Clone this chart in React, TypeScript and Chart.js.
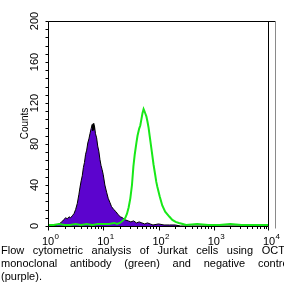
import React, { useEffect, useRef } from "react";
import { Chart, registerables } from "chart.js";

Chart.register(...registerables);

// Fluorescence channel values (log scale) and counts for the negative control (purple)
const purpleX = [1, 1.26, 1.41, 1.58, 1.78, 1.91, 2.09, 2.24, 2.4, 2.57, 2.75, 2.95, 3.16, 3.39, 3.63, 3.8, 3.98, 4.17, 4.37, 4.57, 4.79, 5.01, 5.25, 5.5, 5.75, 6.03, 6.31, 6.46, 6.61, 6.76, 6.92, 7.24, 7.59, 7.94, 8.32, 8.71, 9.12, 9.55, 10, 10.7, 11.5, 12.3, 13.2, 14.1, 15.5, 17, 18.6, 20.4, 22.4, 25.1, 28.2, 31.6, 35.5, 39.8, 44.7, 50.1, 56.2, 63.1, 70.8, 79.4, 100, 126, 158, 200, 251, 398, 10000];
const purpleCounts = [0, 0, 1, 2, 4, 6, 8, 7, 9, 8, 10, 12, 16, 22, 31, 38, 44, 49, 57, 62, 70, 74, 81, 85, 90, 95, 99, 93, 100, 94, 98, 90, 86, 78, 73, 65, 59, 55, 50, 40, 33, 27, 23, 19, 16, 14, 11, 9, 8, 6, 5, 4, 5, 3, 4, 3, 2, 3, 2, 1, 2, 1, 1, 1, 0, 0, 0];

// OCT4 antibody stained cells (green)
const greenX = [1, 1.26, 1.58, 2, 2.51, 3.16, 3.98, 5.01, 6.31, 7.94, 10, 12.6, 15.8, 17.8, 20, 22.4, 25.1, 26.9, 28.8, 30.9, 33.1, 35.1, 37.2, 39.8, 41.7, 44.7, 46.8, 49, 51.3, 53.7, 55.6, 57.5, 60.3, 63.1, 66.1, 69.2, 75.9, 81.3, 87.1, 91.2, 95.5, 105, 117, 132, 158, 178, 204, 234, 275, 316, 501, 794, 1259, 1995, 3162, 5012, 10000];
const greenCounts = [1, 1, 2, 1, 1, 2, 1, 2, 1, 2, 2, 2, 3, 2, 3, 5, 8, 12, 18, 27, 40, 58, 70, 81, 88, 95, 98, 104, 110, 114, 112, 110, 107, 102, 96, 88, 72, 60, 50, 43, 38, 29, 20, 14, 9, 6, 4, 3, 2, 1, 2, 1, 1, 2, 1, 1, 1];

const yTickLabels = [0, 40, 80, 120, 160, 200];
const xDecades = [0, 1, 2, 3, 4];
const yTitle = "Counts";
const captionLines = [
  "Flow cytometric analysis of Jurkat cells using OCT4",
  "monoclonal antibody (green) and negative control",
  "(purple).",
];

const FONT = '"Liberation Sans", Arial, Helvetica, sans-serif';

const axesPlugin = {
  id: "facsAxes",
  afterDraw(chart: any) {
    const { ctx, chartArea: a, scales } = chart;
    const xs = scales.x;
    const ys = scales.y;
    ctx.save();
    ctx.strokeStyle = "#000";
    ctx.lineWidth = 1;
    const L = Math.round(a.left) + 0.5;
    const T = Math.round(a.top) + 0.5;
    const R = Math.round(a.right) - 0.5;
    const B = Math.round(a.bottom) + 0.5;
    ctx.beginPath();
    ctx.moveTo(L, B);
    ctx.lineTo(L, T);
    ctx.lineTo(R + 7, T);
    ctx.moveTo(R, T);
    ctx.lineTo(R, B);
    ctx.moveTo(L, B);
    ctx.lineTo(R, B);
    ctx.stroke();
    ctx.strokeStyle = "#8a8a8a";
    ctx.beginPath();
    ctx.moveTo(R + 7, T);
    ctx.lineTo(R + 7, B + 2);
    ctx.stroke();

    // y ticks every 8 counts
    ctx.strokeStyle = "#000";
    ctx.beginPath();
    for (let v = 0; v <= 200; v += 8) {
      const py = Math.round(ys.getPixelForValue(v)) + 0.5;
      ctx.moveTo(L - 3, py);
      ctx.lineTo(L, py);
    }
    // x ticks (log)
    for (let n = 0; n < 4; n++) {
      for (let k = 1; k <= 9; k++) {
        const px = Math.round(xs.getPixelForValue(k * Math.pow(10, n))) + 0.5;
        const len = k === 1 ? 4 : 2.5;
        ctx.moveTo(px, B);
        ctx.lineTo(px, B + len);
      }
    }
    const pEnd = Math.round(xs.getPixelForValue(10000)) - 0.5;
    ctx.moveTo(pEnd, B);
    ctx.lineTo(pEnd, B + 4);
    ctx.stroke();

    ctx.fillStyle = "#000";
    // y labels rotated
    ctx.font = `11px ${FONT}`;
    ctx.textAlign = "center";
    ctx.textBaseline = "middle";
    for (const v of yTickLabels) {
      const py = ys.getPixelForValue(v);
      ctx.save();
      ctx.translate(35, py);
      ctx.rotate(-Math.PI / 2);
      ctx.fillText(String(v), 0, 0);
      ctx.restore();
    }
    // y title
    ctx.save();
    ctx.font = `10px ${FONT}`;
    ctx.translate(25, (a.top + a.bottom) / 2);
    ctx.rotate(-Math.PI / 2);
    ctx.fillText(yTitle, 0, 0);
    ctx.restore();

    // x labels 10^n
    ctx.textBaseline = "alphabetic";
    for (const n of xDecades) {
      const px = xs.getPixelForValue(Math.pow(10, n));
      ctx.font = `11px ${FONT}`;
      ctx.textAlign = "center";
      const w = ctx.measureText("10").width;
      ctx.fillText("10", px, 245);
      ctx.font = `8px ${FONT}`;
      ctx.textAlign = "left";
      ctx.fillText(String(n), px + w / 2 + 0.5, 239);
    }
    ctx.restore();
  },
};

export default function App() {
  const ref = useRef<HTMLCanvasElement>(null);
  useEffect(() => {
    if (!ref.current) return;
    const chart = new Chart(ref.current, {
      type: "line",
      data: {
        datasets: [
          {
            label: "OCT4",
            data: greenX.map((x, i) => ({ x, y: greenCounts[i] })),
            borderColor: "rgb(24,232,24)",
            borderWidth: 2,
            fill: false,
            pointRadius: 0,
            tension: 0,
          },
          {
            label: "Negative control",
            data: purpleX.map((x, i) => ({ x, y: purpleCounts[i] })),
            borderColor: "#000",
            borderWidth: 1,
            backgroundColor: "rgb(92,4,206)",
            fill: "origin",
            pointRadius: 0,
            tension: 0,
          },
        ],
      },
      options: {
        animation: false,
        responsive: false,
        maintainAspectRatio: false,
        layout: { padding: { left: 0, top: 21, right: 15, bottom: 0 } },
        plugins: { legend: { display: false }, tooltip: { enabled: false } },
        scales: {
          x: {
            type: "logarithmic",
            min: 1,
            max: 10000,
            ticks: { display: false },
            grid: { display: false },
            border: { display: false },
            afterFit: (s: any) => {
              s.height = 24;
            },
          },
          y: {
            type: "linear",
            min: 0,
            max: 200,
            ticks: { display: false },
            grid: { display: false },
            border: { display: false },
            afterFit: (s: any) => {
              s.width = 48;
            },
          },
        },
      },
      plugins: [axesPlugin],
    });
    return () => chart.destroy();
  }, []);

  return (
    <div
      style={{
        position: "fixed",
        left: 0,
        top: 0,
        width: 284,
        height: 284,
        overflow: "hidden",
        background: "#fff",
      }}
    >
      <canvas ref={ref} width={284} height={250} style={{ position: "absolute", left: 0, top: 0, width: 284, height: 250 }} />
      <div
        style={{
          position: "absolute",
          left: 1,
          top: 244,
          width: 290,
          fontFamily: FONT,
          fontSize: "11px",
          lineHeight: "12.8px",
          color: "#000",
        }}
      >
        {captionLines.map((t, i) => (
          <div
            key={i}
            style={{
              textAlign: i < 2 ? "justify" : "left",
              textAlignLast: i < 2 ? "justify" : "left",
              whiteSpace: "normal",
            } as any}
          >
            {t}
          </div>
        ))}
      </div>
    </div>
  );
}
